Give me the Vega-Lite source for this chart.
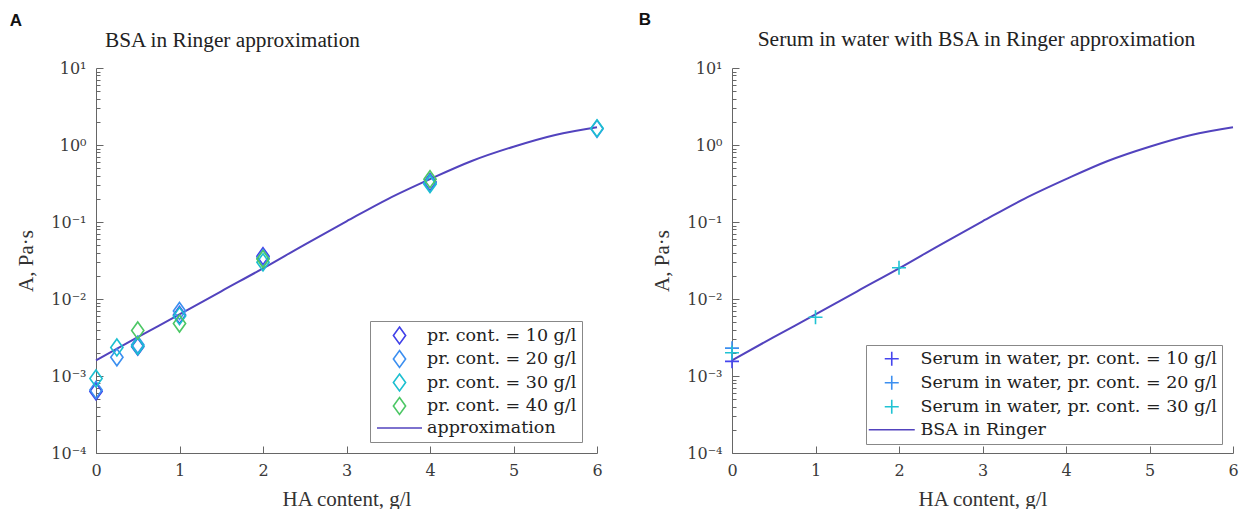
{
  "$schema": "https://vega.github.io/schema/vega-lite/v6.json",
  "background": "white",
  "padding": {"left": 9, "top": 10, "right": 0, "bottom": 0},
  "resolve": {"scale": {"color": "independent", "shape": "independent"}, "legend": {"color": "independent", "shape": "independent"}},
  "config": {
    "view": {"stroke": null},
    "font": "Liberation Serif",
    "concat": {"spacing": 31},
    "axis": {
      "domainColor": "#666666", "tickColor": "#666666", "labelColor": "#3a3a3a", "titleColor": "#333333",
      "labelFont": "DejaVu Serif", "titleFont": "Liberation Serif", "labelFlush": false,
      "labelFontSize": 16, "titleFontSize": 21, "titleFontWeight": "normal", "grid": false, "labelOverlap": false
    },
    "legend": {
      "labelFont": "DejaVu Serif", "labelFontSize": 17.5, "labelColor": "#222222",
      "strokeColor": "#888888", "fillColor": "white", "padding": 5, "cornerRadius": 0,
      "symbolStrokeWidth": 1.6, "symbolSize": 289, "labelLimit": 400
    }
  },
  "hconcat": [
    {
      "title": {"text": "A", "anchor": "start", "font": "Liberation Sans", "fontWeight": "bold", "fontSize": 17, "color": "#111111", "dx": -6, "offset": 0},
      "vconcat": [
        {
          "width": 501, "height": 385,
          "title": {"text": "BSA in Ringer approximation", "anchor": "start", "frame": "group", "dx": 9, "fontSize": 21.3, "fontWeight": "normal", "font": "Liberation Serif", "color": "#222222", "offset": 9},
          "layer": [
            {
              "data": {"values": [
                {"x": 0, "A": 0.0016, "series": "approximation"},
                {"x": 0.5, "A": 0.0032, "series": "approximation"},
                {"x": 1, "A": 0.0063, "series": "approximation"},
                {"x": 1.5, "A": 0.0126, "series": "approximation"},
                {"x": 2, "A": 0.025, "series": "approximation"},
                {"x": 2.5, "A": 0.051, "series": "approximation"},
                {"x": 3, "A": 0.102, "series": "approximation"},
                {"x": 3.5, "A": 0.2, "series": "approximation"},
                {"x": 4, "A": 0.36, "series": "approximation"},
                {"x": 4.5, "A": 0.62, "series": "approximation"},
                {"x": 5, "A": 0.95, "series": "approximation"},
                {"x": 5.5, "A": 1.35, "series": "approximation"},
                {"x": 6, "A": 1.7, "series": "approximation"}
              ]},
              "mark": {"type": "line", "strokeWidth": 2, "interpolate": "monotone", "clip": false},
              "encoding": {
                "x": {"field": "x", "type": "quantitative", "scale": {"domain": [0, 6], "nice": false},
                  "axis": {"title": "HA content, g/l", "values": [0, 1, 2, 3, 4, 5, 6], "format": "d", "tickSize": -7, "labelPadding": 16, "titlePadding": 10}},
                "y": {"field": "A", "type": "quantitative", "scale": {"type": "log", "domain": [0.0001, 10], "nice": false},
                  "axis": {"title": "A, Pa·s", "values": [0.0001,0.0002,0.0003,0.0004,0.0005,0.0006,0.0007,0.0008,0.0009,0.001,0.002,0.003,0.004,0.005,0.006,0.007,0.008,0.009,0.01,0.02,0.03,0.04,0.05,0.06,0.07,0.08,0.09,0.1,0.2,0.3,0.4,0.5,0.6,0.7,0.8,0.9,1,2,3,4,5,6,7,8,9,10],
                    "labelExpr": "abs(log(datum.value)/LN10 - round(log(datum.value)/LN10)) < 1e-6 ? ['10⁻⁴','10⁻³','10⁻²','10⁻¹','10⁰','10¹'][round(log(datum.value)/LN10)+4] : ''",
                    "tickSize": {"condition": {"test": "abs(log(datum.value)/LN10 - round(log(datum.value)/LN10)) < 1e-6", "value": -7}, "value": -4},
                    "labelPadding": 17, "titlePadding": 14}},
                "color": {"field": "series", "type": "nominal",
                  "scale": {"domain": ["pr. cont. = 10 g/l", "pr. cont. = 20 g/l", "pr. cont. = 30 g/l", "pr. cont. = 40 g/l", "approximation"], "range": ["#4040e8", "#3c8ff0", "#1cbfd0", "#4cc765", "#5243be"]},
                  "legend": {"title": null, "orient": "none", "legendX": 274, "legendY": 253, "rowPadding": -1.5, "symbolOffset": 15, "labelOffset": 18,
                    "encode": {"symbols": {"update": {"size": {"signal": "datum.value === 'approximation' ? 2025 : 289"}}}}}}
              }
            },
            {
              "data": {"values": [
                {"x": 0, "A": 0.00063, "series": "pr. cont. = 10 g/l"},
                {"x": 0.5, "A": 0.0024, "series": "pr. cont. = 10 g/l"},
                {"x": 1, "A": 0.0062, "series": "pr. cont. = 10 g/l"},
                {"x": 2, "A": 0.036, "series": "pr. cont. = 10 g/l"},
                {"x": 4, "A": 0.33, "series": "pr. cont. = 10 g/l"},
                {"x": 0, "A": 0.00066, "series": "pr. cont. = 20 g/l"},
                {"x": 0.25, "A": 0.00175, "series": "pr. cont. = 20 g/l"},
                {"x": 0.5, "A": 0.00255, "series": "pr. cont. = 20 g/l"},
                {"x": 1, "A": 0.007, "series": "pr. cont. = 20 g/l"},
                {"x": 2, "A": 0.034, "series": "pr. cont. = 20 g/l"},
                {"x": 4, "A": 0.32, "series": "pr. cont. = 20 g/l"},
                {"x": 6, "A": 1.62, "series": "pr. cont. = 20 g/l"},
                {"x": 0, "A": 0.00093, "series": "pr. cont. = 30 g/l"},
                {"x": 0.25, "A": 0.00235, "series": "pr. cont. = 30 g/l"},
                {"x": 0.5, "A": 0.00245, "series": "pr. cont. = 30 g/l"},
                {"x": 1, "A": 0.006, "series": "pr. cont. = 30 g/l"},
                {"x": 2, "A": 0.03, "series": "pr. cont. = 30 g/l"},
                {"x": 4, "A": 0.31, "series": "pr. cont. = 30 g/l"},
                {"x": 6, "A": 1.65, "series": "pr. cont. = 30 g/l"},
                {"x": 0.5, "A": 0.0039, "series": "pr. cont. = 40 g/l"},
                {"x": 1, "A": 0.0048, "series": "pr. cont. = 40 g/l"},
                {"x": 2, "A": 0.033, "series": "pr. cont. = 40 g/l"},
                {"x": 4, "A": 0.36, "series": "pr. cont. = 40 g/l"}
              ]},
              "mark": {"type": "point", "filled": false, "strokeWidth": 1.6, "size": 289, "clip": false, "opacity": 1},
              "encoding": {
                "x": {"field": "x", "type": "quantitative"},
                "y": {"field": "A", "type": "quantitative"},
                "color": {"field": "series", "type": "nominal",
                  "scale": {"domain": ["pr. cont. = 10 g/l", "pr. cont. = 20 g/l", "pr. cont. = 30 g/l", "pr. cont. = 40 g/l", "approximation"], "range": ["#4040e8", "#3c8ff0", "#1cbfd0", "#4cc765", "#5243be"]},
                  "legend": {"title": null, "orient": "none", "legendX": 274, "legendY": 253, "rowPadding": -1.5, "symbolOffset": 15, "labelOffset": 18,
                    "encode": {"symbols": {"update": {"size": {"signal": "datum.value === 'approximation' ? 2025 : 289"}}}}}},
                "shape": {"field": "series", "type": "nominal",
                  "scale": {"domain": ["pr. cont. = 10 g/l", "pr. cont. = 20 g/l", "pr. cont. = 30 g/l", "pr. cont. = 40 g/l", "approximation"], "range": ["M0,-1L0.72,0L0,1L-0.72,0Z", "M0,-1L0.72,0L0,1L-0.72,0Z", "M0,-1L0.72,0L0,1L-0.72,0Z", "M0,-1L0.72,0L0,1L-0.72,0Z", "stroke"]},
                  "legend": {"title": null, "orient": "none", "legendX": 274, "legendY": 253, "rowPadding": -1.5, "symbolOffset": 15, "labelOffset": 18,
                    "encode": {"symbols": {"update": {"size": {"signal": "datum.value === 'approximation' ? 2025 : 289"}}}}}}
              }
            }
          ]
        }
      ]
    },
    {
      "title": {"text": "B", "anchor": "start", "font": "Liberation Sans", "fontWeight": "bold", "fontSize": 17, "color": "#111111", "dx": -13, "offset": 0},
      "vconcat": [
        {
          "width": 501, "height": 385,
          "title": {"text": "Serum in water with BSA in Ringer approximation", "anchor": "middle", "frame": "group", "dx": -6, "fontSize": 21.5, "fontWeight": "normal", "font": "Liberation Serif", "color": "#222222", "offset": 10},
          "layer": [
            {
              "data": {"values": [
                {"x": 0, "A": 0.0016, "series": "BSA in Ringer"},
                {"x": 0.5, "A": 0.0032, "series": "BSA in Ringer"},
                {"x": 1, "A": 0.0063, "series": "BSA in Ringer"},
                {"x": 1.5, "A": 0.0126, "series": "BSA in Ringer"},
                {"x": 2, "A": 0.025, "series": "BSA in Ringer"},
                {"x": 2.5, "A": 0.051, "series": "BSA in Ringer"},
                {"x": 3, "A": 0.102, "series": "BSA in Ringer"},
                {"x": 3.5, "A": 0.2, "series": "BSA in Ringer"},
                {"x": 4, "A": 0.36, "series": "BSA in Ringer"},
                {"x": 4.5, "A": 0.62, "series": "BSA in Ringer"},
                {"x": 5, "A": 0.95, "series": "BSA in Ringer"},
                {"x": 5.5, "A": 1.35, "series": "BSA in Ringer"},
                {"x": 6, "A": 1.7, "series": "BSA in Ringer"}
              ]},
              "mark": {"type": "line", "strokeWidth": 2, "interpolate": "monotone", "clip": false},
              "encoding": {
                "x": {"field": "x", "type": "quantitative", "scale": {"domain": [0, 6], "nice": false},
                  "axis": {"title": "HA content, g/l", "values": [0, 1, 2, 3, 4, 5, 6], "format": "d", "tickSize": -7, "labelPadding": 16, "titlePadding": 10}},
                "y": {"field": "A", "type": "quantitative", "scale": {"type": "log", "domain": [0.0001, 10], "nice": false},
                  "axis": {"title": "A, Pa·s", "values": [0.0001,0.0002,0.0003,0.0004,0.0005,0.0006,0.0007,0.0008,0.0009,0.001,0.002,0.003,0.004,0.005,0.006,0.007,0.008,0.009,0.01,0.02,0.03,0.04,0.05,0.06,0.07,0.08,0.09,0.1,0.2,0.3,0.4,0.5,0.6,0.7,0.8,0.9,1,2,3,4,5,6,7,8,9,10],
                    "labelExpr": "abs(log(datum.value)/LN10 - round(log(datum.value)/LN10)) < 1e-6 ? ['10⁻⁴','10⁻³','10⁻²','10⁻¹','10⁰','10¹'][round(log(datum.value)/LN10)+4] : ''",
                    "tickSize": {"condition": {"test": "abs(log(datum.value)/LN10 - round(log(datum.value)/LN10)) < 1e-6", "value": -7}, "value": -4},
                    "labelPadding": 17, "titlePadding": 14}},
                "color": {"field": "series", "type": "nominal",
                  "scale": {"domain": ["Serum in water, pr. cont. = 10 g/l", "Serum in water, pr. cont. = 20 g/l", "Serum in water, pr. cont. = 30 g/l", "BSA in Ringer"], "range": ["#4545ee", "#3c8ff0", "#20c3d3", "#5243be"]},
                  "legend": {"title": null, "orient": "none", "legendX": 134, "legendY": 277, "rowPadding": 3, "symbolOffset": 12, "labelOffset": 20,
                    "encode": {"symbols": {"update": {"size": {"signal": "datum.value === 'BSA in Ringer' ? 2116 : 196"}}}}}}
              }
            },
            {
              "data": {"values": [
                {"x": 0, "A": 0.00155, "series": "Serum in water, pr. cont. = 10 g/l"},
                {"x": 0, "A": 0.0023, "series": "Serum in water, pr. cont. = 20 g/l"},
                {"x": 0, "A": 0.002, "series": "Serum in water, pr. cont. = 30 g/l"},
                {"x": 1, "A": 0.0058, "series": "Serum in water, pr. cont. = 30 g/l"},
                {"x": 2, "A": 0.0255, "series": "Serum in water, pr. cont. = 30 g/l"}
              ]},
              "mark": {"type": "point", "filled": false, "strokeWidth": 1.6, "size": 196, "clip": false, "opacity": 1},
              "encoding": {
                "x": {"field": "x", "type": "quantitative"},
                "y": {"field": "A", "type": "quantitative"},
                "color": {"field": "series", "type": "nominal",
                  "scale": {"domain": ["Serum in water, pr. cont. = 10 g/l", "Serum in water, pr. cont. = 20 g/l", "Serum in water, pr. cont. = 30 g/l", "BSA in Ringer"], "range": ["#4545ee", "#3c8ff0", "#20c3d3", "#5243be"]},
                  "legend": {"title": null, "orient": "none", "legendX": 134, "legendY": 277, "rowPadding": 3, "symbolOffset": 12, "labelOffset": 20,
                    "encode": {"symbols": {"update": {"size": {"signal": "datum.value === 'BSA in Ringer' ? 2116 : 196"}}}}}},
                "shape": {"field": "series", "type": "nominal",
                  "scale": {"domain": ["Serum in water, pr. cont. = 10 g/l", "Serum in water, pr. cont. = 20 g/l", "Serum in water, pr. cont. = 30 g/l", "BSA in Ringer"], "range": ["M-1,0H1M0,-1V1", "M-1,0H1M0,-1V1", "M-1,0H1M0,-1V1", "stroke"]},
                  "legend": {"title": null, "orient": "none", "legendX": 134, "legendY": 277, "rowPadding": 3, "symbolOffset": 12, "labelOffset": 20,
                    "encode": {"symbols": {"update": {"size": {"signal": "datum.value === 'BSA in Ringer' ? 2116 : 196"}}}}}}
              }
            }
          ]
        }
      ]
    }
  ]
}
